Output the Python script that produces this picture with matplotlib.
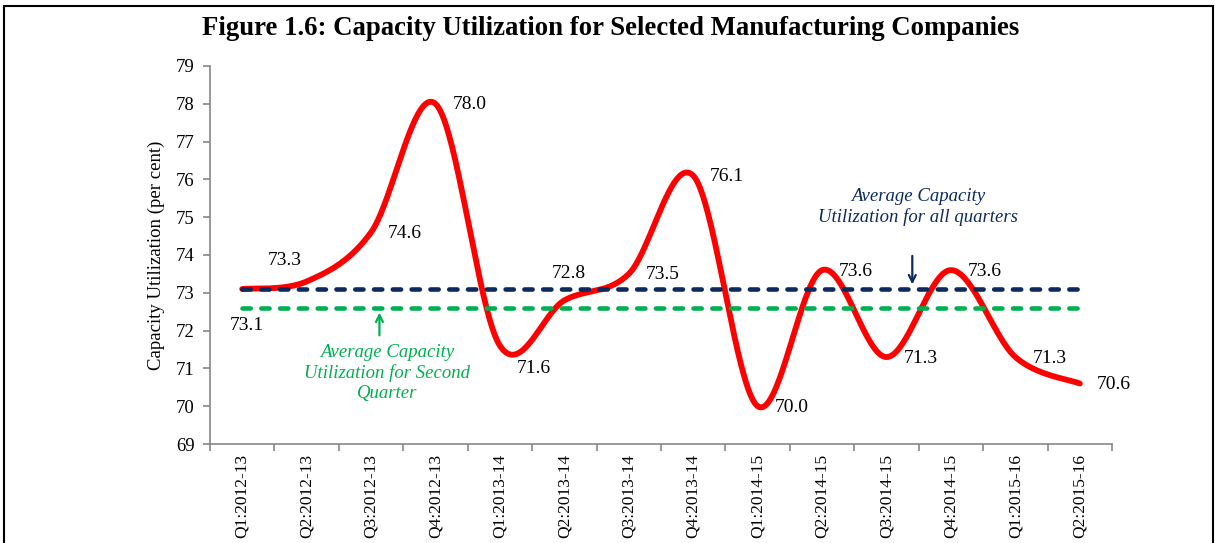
import numpy as np
import matplotlib
matplotlib.use("Agg")
import matplotlib.pyplot as plt
from matplotlib.patches import Rectangle

# ---------------- data ----------------
quarters = ["Q1:2012-13", "Q2:2012-13", "Q3:2012-13", "Q4:2012-13",
            "Q1:2013-14", "Q2:2013-14", "Q3:2013-14", "Q4:2013-14",
            "Q1:2014-15", "Q2:2014-15", "Q3:2014-15", "Q4:2014-15",
            "Q1:2015-16", "Q2:2015-16"]
capacity = [73.1, 73.3, 74.6, 78.0, 71.6, 72.8, 73.5, 76.1,
            70.0, 73.6, 71.3, 73.6, 71.3, 70.6]
avg_all_quarters = 73.1
avg_second_quarter = 72.6
y_ticks = [69, 70, 71, 72, 73, 74, 75, 76, 77, 78, 79]

plt.rcParams['font.family'] = ['Liberation Serif', 'DejaVu Serif']

fig = plt.figure(figsize=(12.18, 5.43), dpi=100)
ax = fig.add_axes([0.1724, 0.1823, 0.9130 - 0.1724, 0.8785 - 0.1823])

x = np.arange(len(quarters), dtype=float)
y = np.array(capacity, dtype=float)

# Excel-like smoothed line (cubic Bezier through points)
def smooth(xs, ys, n=40):
    P = np.column_stack([xs, ys])
    Pext = np.vstack([P[0], P, P[-1]])
    out = []
    for i in range(len(P) - 1):
        p0, p1, p2, p3 = Pext[i], Pext[i + 1], Pext[i + 2], Pext[i + 3]
        c1 = p1 + (p2 - p0) / 6.0
        c2 = p2 - (p3 - p1) / 6.0
        t = np.linspace(0, 1, n)[:, None]
        seg = ((1 - t) ** 3) * p1 + 3 * ((1 - t) ** 2) * t * c1 + 3 * (1 - t) * t ** 2 * c2 + t ** 3 * p2
        out.append(seg if i == 0 else seg[1:])
    s = np.vstack(out)
    return s[:, 0], s[:, 1]

sx, sy = smooth(x, y)
ax.plot(sx, sy, color='#FF0000', lw=4.2, solid_capstyle='round', zorder=2)

ax.plot(x, [avg_all_quarters] * len(x), color='#0C2A5E', lw=3.3,
        ls=(0, (1.8, 2.3)), dash_capstyle='round', zorder=3)
ax.plot(x, [avg_second_quarter] * len(x), color='#00B050', lw=3.3,
        ls=(0, (1.8, 2.3)), dash_capstyle='round', zorder=3)

# value labels
offsets = {0: (5, -36), 1: (-22, 21), 4: (34, -23), 5: (4, 27)}
for i, v in enumerate(capacity):
    dx, dy = offsets.get(i, (34, -1))
    ax.annotate(f"{v:.1f}", (x[i], v), xytext=(dx, dy), textcoords='offset pixels',
                ha='center', va='center', fontsize=14, color='black', zorder=4)

# annotations
ax.text(10.49, 75.28, "Average Capacity\nUtilization for all quarters", color='#0C2A5E',
        style='italic', fontsize=13.5, ha='center', va='center', linespacing=1.22)
ax.annotate("", xy=(10.40, 73.15), xytext=(10.40, 74.05),
            arrowprops=dict(arrowstyle='->,head_length=0.5,head_width=0.25', color='#0C2A5E', lw=1.6))
ax.text(2.25, 70.88, "Average Capacity\nUtilization for Second\nQuarter", color='#00B050',
        style='italic', fontsize=13.5, ha='center', va='center', linespacing=1.22)
ax.annotate("", xy=(2.13, 72.55), xytext=(2.13, 71.80),
            arrowprops=dict(arrowstyle='->,head_length=0.5,head_width=0.25', color='#00B050', lw=1.6))

# axes styling
ax.set_xlim(-0.5, len(quarters) - 0.5)
ax.set_ylim(69, 79)
ax.set_yticks(y_ticks)
ax.set_yticklabels([str(t) for t in y_ticks], fontsize=13.5)
ax.set_xticks(x)
ax.set_xticklabels(quarters, rotation=90, fontsize=12.5)
ax.set_xticks(np.arange(-0.5, len(quarters), 1.0), minor=True)
ax.tick_params(axis='x', which='major', length=0, pad=7)
ax.tick_params(axis='x', which='minor', length=5, color='#868686', width=1.2)
ax.tick_params(axis='y', length=5, color='#868686', width=1.2, pad=6)
for s in ['top', 'right']:
    ax.spines[s].set_visible(False)
for s in ['left', 'bottom']:
    ax.spines[s].set_color('#868686')
    ax.spines[s].set_linewidth(1.2)
ax.set_ylabel("Capacity Utilization (per cent)", fontsize=13.5, labelpad=8)

fig.text(0.5017, 0.948, "Figure 1.6: Capacity Utilization for Selected Manufacturing Companies",
         ha='center', va='center', fontsize=19.3, fontweight='bold')

fig.patches.append(Rectangle((4 / 1218, -0.05), (1213 - 4) / 1218, 1 - 6 / 543 + 0.05,
                             transform=fig.transFigure, fill=False, edgecolor='black', lw=1.5))

fig.savefig("out.png", dpi=100)
